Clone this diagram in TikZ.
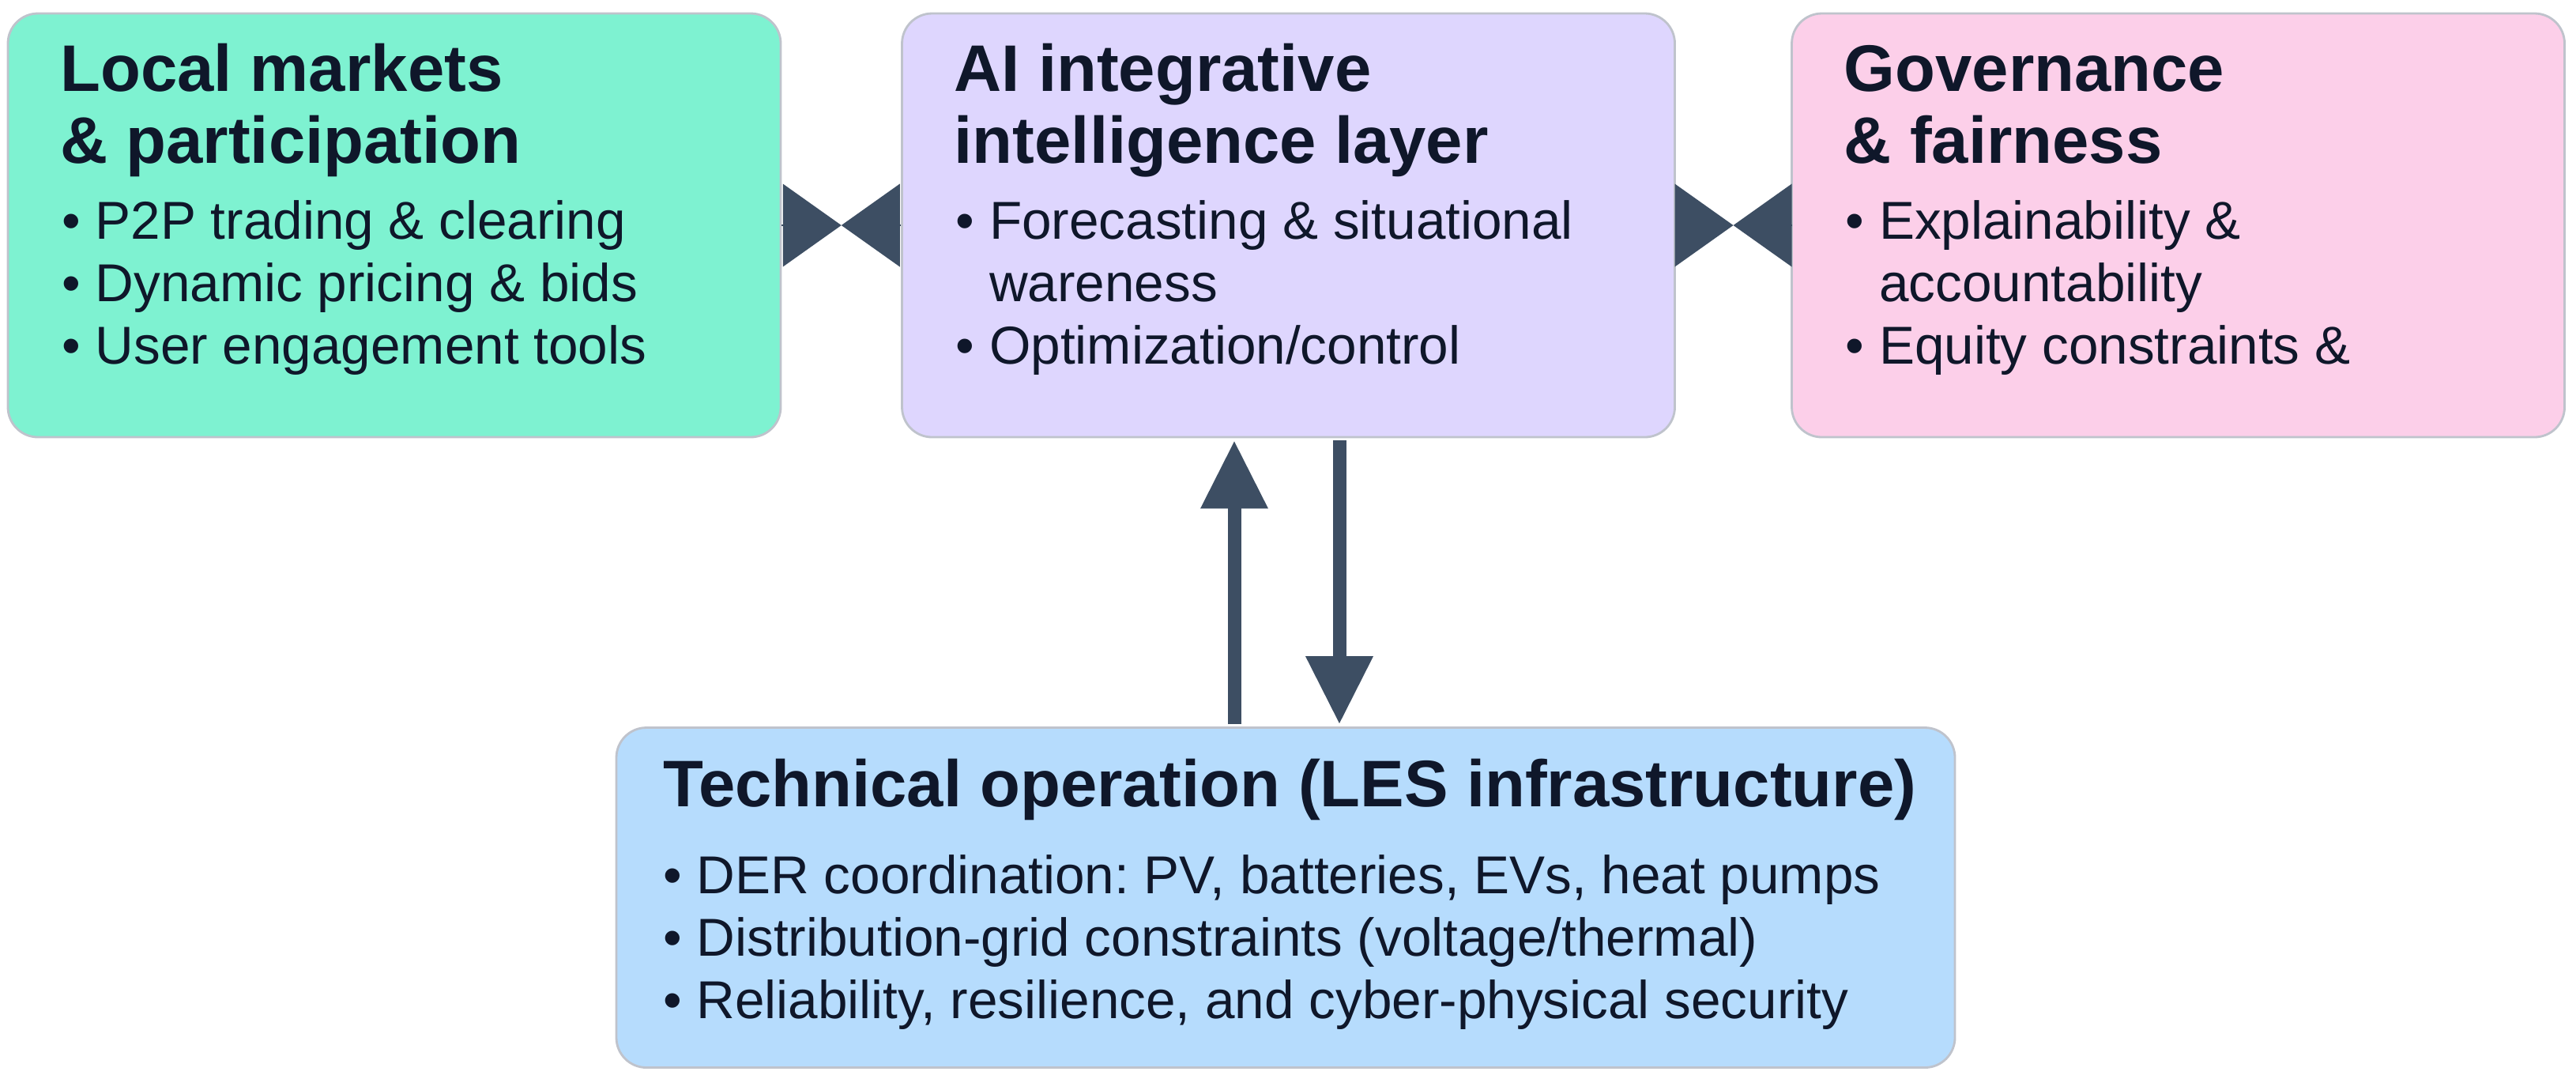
\documentclass[tikz,border=0pt]{standalone}
\usepackage{fontspec}
\setmainfont{Liberation Sans}
\usetikzlibrary{arrows.meta,calc}

\definecolor{inkblue}{HTML}{0F172A}
\definecolor{slatearrow}{HTML}{3D4E63}
\definecolor{mintfill}{HTML}{7EF2D1}
\definecolor{lilacfill}{HTML}{DED6FE}
\definecolor{pinkfill}{HTML}{FCCFE9}
\definecolor{skyfill}{HTML}{B6DCFD}
\definecolor{panelline}{HTML}{BFC3CC}

\newcommand{\titlefont}{\fontsize{23.7}{25.9}\selectfont\bfseries}
\newcommand{\bodyfont}{\fontsize{19.2}{22.4}\selectfont}
\frenchspacing

\begin{document}
\begin{tikzpicture}[
panel/.style={draw=panelline,line width=0.8pt,rounded corners=0.38cm,minimum width=9.78cm,minimum height=5.36cm,inner sep=0pt},
heading/.style={anchor=base west,inner sep=0pt,text=inkblue,font=\titlefont},
bullets/.style={anchor=base west,inner sep=0pt,text=inkblue,font=\bodyfont},
bowtie/.style={draw=slatearrow,line width=0.4pt,-{Triangle[length=0.74cm,width=1.05cm,line width=0pt]}},
arrow/.style={draw=slatearrow,line width=0.17cm,-{Triangle[length=0.85cm,width=0.86cm,line width=0pt]},shorten <=0.03cm,shorten >=0.04cm} ]

\useasboundingbox (0,0) rectangle (32.6,-13.64);

\node[panel,fill=mintfill](market) at (4.99,-2.85) {};

\node[panel,fill=lilacfill](ai) at (16.305,-2.85) {};

\node[panel,fill=pinkfill](gov) at (27.565,-2.85) {};

\node[panel,fill=skyfill,minimum width=16.94cm,minimum height=4.30cm](tech) at (16.27,-11.355) {};

\node[heading](marketT) at ([shift={(0.67,-1.0)}]market.north west) {\parbox[t]{9cm}{Local markets\\ \& participation}};

\node[bullets](marketB) at ([shift={(0.69,-2.87)}]market.north west) {\parbox[t]{9cm}{\textbullet\ P2P trading \& clearing\\ \textbullet\ Dynamic pricing \& bids\\ \textbullet\ User engagement tools}};

\node[heading](aiT) at ([shift={(0.67,-1.0)}]ai.north west) {\parbox[t]{9cm}{AI integrative\\ intelligence layer}};

\node[bullets](aiB) at ([shift={(0.69,-2.87)}]ai.north west) {\parbox[t]{9cm}{\textbullet\ Forecasting \& situational\\ \hphantom{\textbullet\ }wareness\\ \textbullet\ Optimization/control}};

\node[heading](govT) at ([shift={(0.67,-1.0)}]gov.north west) {\parbox[t]{9cm}{Governance\\ \& fairness}};

\node[bullets](govB) at ([shift={(0.69,-2.87)}]gov.north west) {\parbox[t]{9cm}{\textbullet\ Explainability \&\\ \hphantom{\textbullet\ }accountability\\ \textbullet\ Equity constraints \&}};

\node[heading](techT) at ([shift={(0.60,-1.015)}]tech.north west) {Technical operation (LES infrastructure)};

\node[bullets](techB) at ([shift={(0.60,-2.115)}]tech.north west) {\parbox[t]{16cm}{\textbullet\ DER coordination: PV, batteries, EVs, heat pumps\\ \textbullet\ Distribution-grid constraints (voltage/thermal)\\ \textbullet\ Reliability, resilience, and cyber-physical security}};

\coordinate (mkai) at ($(market.east)!0.5!(ai.west)$);

\coordinate (aigov) at ($(ai.east)!0.5!(gov.west)$);

\coordinate (upx) at ([xshift=-0.685cm]ai.south);

\coordinate (downx) at ([xshift=0.645cm]ai.south);

\draw[bowtie] (market.east) -- (mkai);

\draw[bowtie] (ai.west) -- (mkai);

\draw[bowtie] (ai.east) -- (aigov);

\draw[bowtie] (gov.west) -- (aigov);

\draw[arrow] (upx |- tech.north) -- (upx);

\draw[arrow] (downx) -- (downx |- tech.north);
\end{tikzpicture}
\end{document}
